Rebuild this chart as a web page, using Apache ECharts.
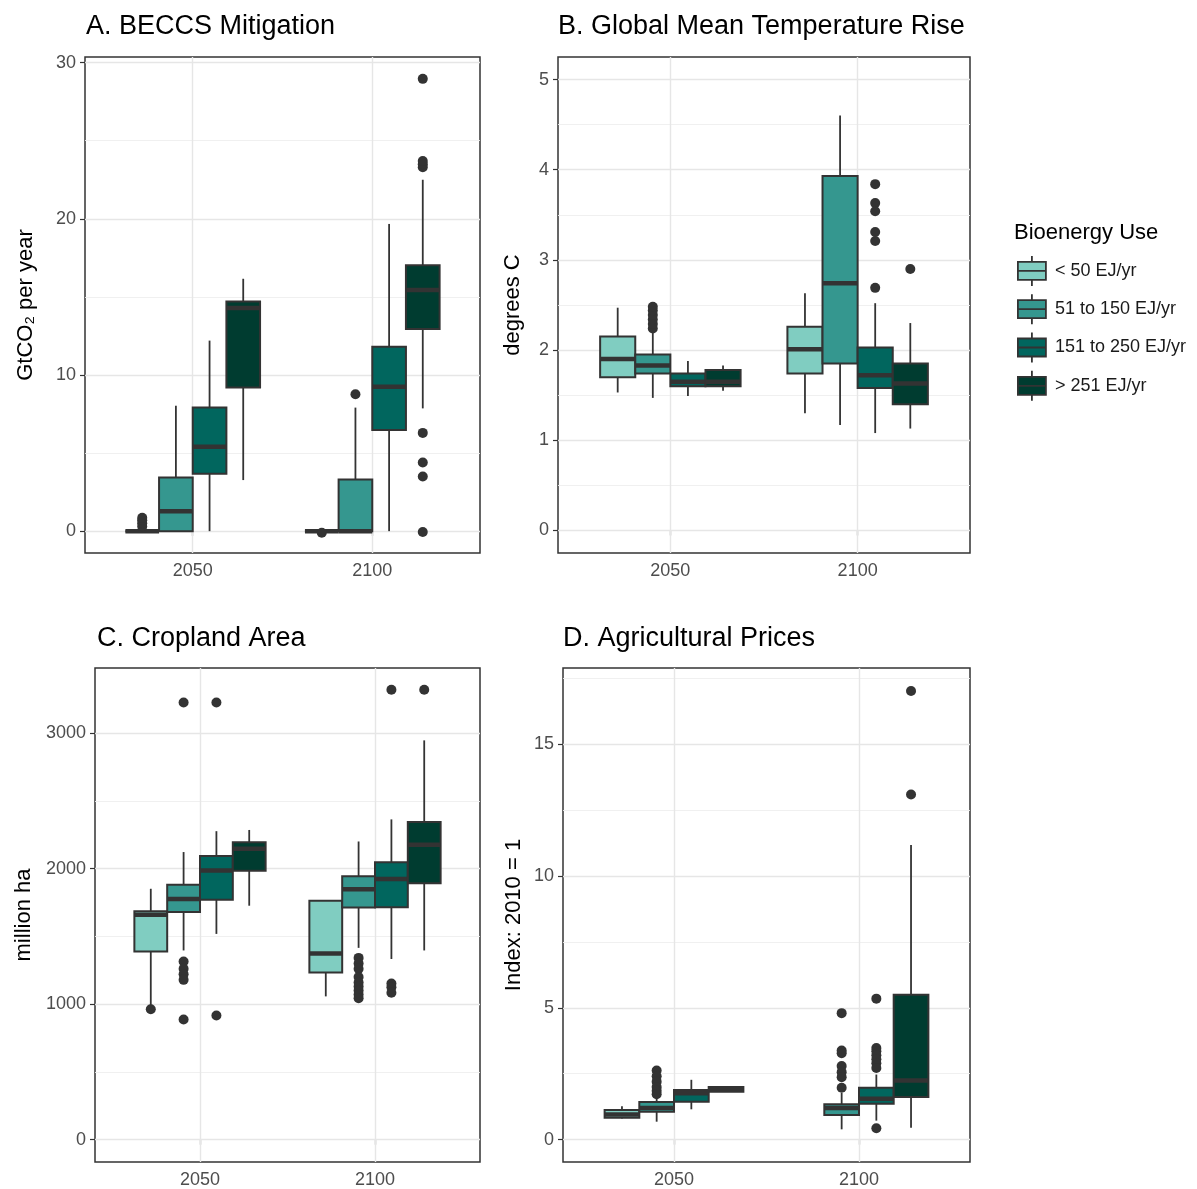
<!DOCTYPE html>
<html>
<head>
<meta charset="utf-8">
<title>Bioenergy use boxplots</title>
<script src="https://cdn.jsdelivr.net/npm/echarts@6/dist/echarts.min.js"></script>
<style>
  html, body { margin: 0; padding: 0; background: #fff; }
  #chart { width: 1197px; height: 1189px; }
</style>
</head>
<body>
<div id="chart"></div>
<script>
const years = ['2050', '2100'];
const groups = ['< 50 EJ/yr', '51 to 150 EJ/yr', '151 to 250 EJ/yr', '> 251 EJ/yr'];

// per group: [2050, 2100], each [lower whisker, q1, median, q3, upper whisker]
const beccsBoxes = [
  [[0, 0, 0, 0, 0], [0, 0, 0, 0, 0]],
  [[0, 0, 1.28, 3.44, 8.03], [0, 0, 0, 3.31, 7.91]],
  [[0, 3.68, 5.4, 7.91, 12.2], [0, 6.48, 9.24, 11.8, 19.67]],
  [[3.27, 9.19, 14.28, 14.7, 16.16], [7.86, 12.94, 15.44, 17.03, 22.5]]
];
const beccsOutliers = [
  [[0.3, 0.5, 0.7, 0.85], [-0.1]],
  [[], [8.76]],
  [[], []],
  [[], [28.96, 23.3, 23.5, 23.7, 6.29, 4.4, 3.5, -0.05]]
];
const beccsTicks = [0, 10, 20, 30];
const beccsMinor = [5, 15, 25];

const tempBoxes = [
  [[1.53, 1.70, 1.90, 2.15, 2.47], [1.30, 1.74, 2.01, 2.26, 2.63]],
  [[1.47, 1.74, 1.83, 1.95, 2.2], [1.17, 1.85, 2.74, 3.93, 4.60]],
  [[1.49, 1.60, 1.65, 1.74, 1.88], [1.08, 1.58, 1.72, 2.03, 2.52]],
  [[1.55, 1.60, 1.65, 1.78, 1.83], [1.13, 1.40, 1.63, 1.85, 2.30]]
];
const tempOutliers = [
  [[], []],
  [[2.24, 2.29, 2.34, 2.39, 2.44, 2.48], []],
  [[], [3.84, 3.63, 3.54, 3.31, 3.21, 2.69]],
  [[], [2.90]]
];
const tempTicks = [0, 1, 2, 3, 4, 5];
const tempMinor = [0.5, 1.5, 2.5, 3.5, 4.5];

const cropBoxes = [
  [[990, 1388, 1659, 1686, 1851], [1057, 1233, 1374, 1762, 1762]],
  [[1396, 1680, 1775, 1881, 2122], [1415, 1713, 1848, 1943, 2200]],
  [[1518, 1770, 1986, 2092, 2276], [1333, 1715, 1924, 2046, 2363]],
  [[1726, 1984, 2146, 2195, 2285], [1396, 1892, 2176, 2344, 2946]]
];
const cropOutliers = [
  [[962], []],
  [[3225, 1314, 1260, 1220, 1179, 886], [1341, 1300, 1260, 1200, 1160, 1130, 1100, 1070, 1043]],
  [[3225, 916], [3320, 1152, 1125, 1084]],
  [[], [3320]]
];
const cropTicks = [0, 1000, 2000, 3000];
const cropMinor = [500, 1500, 2500];

const priceBoxes = [
  [[0.80, 0.83, 0.95, 1.12, 1.27], null],
  [[0.68, 1.06, 1.20, 1.43, 1.60], [0.39, 0.93, 1.20, 1.34, 1.78]],
  [[1.15, 1.44, 1.76, 1.88, 2.27], [0.72, 1.36, 1.55, 1.97, 2.47]],
  [[1.82, 1.82, 1.93, 2.0, 2.0], [0.45, 1.62, 2.24, 5.50, 11.18]]
];
const priceOutliers = [
  [[], []],
  [[2.62, 2.4, 2.2, 2.0, 1.85, 1.72], [4.80, 3.38, 3.28, 2.79, 2.56, 2.37, 1.97]],
  [[], [5.35, 3.48, 3.35, 3.2, 3.05, 2.9, 2.72, 0.43]],
  [[], [17.03, 13.1]]
];
const priceTicks = [0, 5, 10, 15];
const priceMinor = [2.5, 7.5, 12.5, 17.5];

const palette = ['#80cdc1', '#35978f', '#01665e', '#003c30'];
const font = 'Liberation Sans, Arial, sans-serif';
const ink = '#333333';
const boxW = 0.1875;

const panels = [
  { title: 'A. BECCS Mitigation', yName: 'GtCO₂ per year', boxes: beccsBoxes, outliers: beccsOutliers,
    ticks: beccsTicks, minor: beccsMinor, range: [-1.4, 30.36],
    grid: { left: 85, top: 57, width: 395, height: 496 }, nameGap: 48, titleLeft: 86, titleTop: 13 },
  { title: 'B. Global Mean Temperature Rise', yName: 'degrees C', boxes: tempBoxes, outliers: tempOutliers,
    ticks: tempTicks, minor: tempMinor, range: [-0.25, 5.25],
    grid: { left: 558, top: 57, width: 412, height: 496 }, nameGap: 34, titleLeft: 558, titleTop: 13 },
  { title: 'C. Cropland Area', yName: 'million ha', boxes: cropBoxes, outliers: cropOutliers,
    ticks: cropTicks, minor: cropMinor, range: [-165, 3480],
    grid: { left: 95, top: 668, width: 385, height: 496 }, nameGap: 60, titleLeft: 97, titleTop: 625 },
  { title: 'D. Agricultural Prices', yName: 'Index: 2010 = 1', boxes: priceBoxes, outliers: priceOutliers,
    ticks: priceTicks, minor: priceMinor, range: [-0.85, 17.9],
    grid: { left: 563, top: 668, width: 407, height: 496 }, nameGap: 38, titleLeft: 563, titleTop: 625 }
];

const slotX = (cat, slot) => cat + 1 + (slot - 1.5) * boxW;

function boxRenderer(slot, color) {
  return function (params, api) {
    const x = slotX(api.value(0), slot);
    const xl = api.coord([x - boxW / 2, 0])[0];
    const xr = api.coord([x + boxW / 2, 0])[0];
    const xc = api.coord([x, 0])[0];
    const y = i => api.coord([x, api.value(i)])[1];
    const lo = y(1), q1 = y(2), md = y(3), q3 = y(4), hi = y(5);
    const line = { stroke: ink, lineWidth: 1.8 };
    return {
      type: 'group',
      children: [
        { type: 'line', shape: { x1: xc, y1: lo, x2: xc, y2: q1 }, style: line },
        { type: 'line', shape: { x1: xc, y1: q3, x2: xc, y2: hi }, style: line },
        { type: 'rect', shape: { x: xl, y: q3, width: xr - xl, height: q1 - q3 },
          style: { fill: color, stroke: ink, lineWidth: 2 } },
        { type: 'line', shape: { x1: xl, y1: md, x2: xr, y2: md }, style: { stroke: ink, lineWidth: 4.5 } }
      ]
    };
  };
}

const option = {
  animation: false,
  backgroundColor: '#ffffff',
  textStyle: { fontFamily: font },
  title: [],
  grid: [],
  xAxis: [],
  yAxis: [],
  series: [],
  legend: {
    orient: 'vertical',
    left: 1017,
    top: 255,
    padding: 0,
    itemWidth: 30,
    itemHeight: 30,
    itemGap: 6.5,
    icon: 'path://M15,0L15,6M1,6L29,6L29,24L1,24ZM1,15L29,15M15,24L15,30',
    itemStyle: { borderColor: ink, borderWidth: 1.8 },
    textStyle: { fontSize: 18, color: '#1a1a1a', fontFamily: font, padding: [0, 0, 0, 3] },
    data: groups
  }
};

option.title.push({
  text: 'Bioenergy Use', left: 1014, top: 222, padding: 0,
  textStyle: { fontSize: 22, fontWeight: 'normal', color: '#000', fontFamily: font }
});

panels.forEach((p, i) => {
  option.title.push({
    text: p.title, left: p.titleLeft, top: p.titleTop, padding: 0,
    textStyle: { fontSize: 27, fontWeight: 'normal', color: '#000', fontFamily: font }
  });
  option.grid.push(Object.assign({ show: true, borderColor: ink, borderWidth: 1.5, backgroundColor: '#fff' }, p.grid));
  option.xAxis.push({
    gridIndex: i, type: 'value', min: 0.4, max: 2.6,
    axisLine: { show: false }, splitLine: { show: false },
    axisTick: { show: true, length: 5, customValues: [1, 2], lineStyle: { color: ink, width: 1.2 } },
    axisLabel: { customValues: [1, 2], formatter: v => years[Math.round(v) - 1], fontSize: 18, color: '#4d4d4d', margin: 9 }
  });
  option.yAxis.push({
    gridIndex: i, type: 'value', min: p.range[0], max: p.range[1],
    axisLine: { show: false }, splitLine: { show: false },
    axisTick: { show: true, length: 5, customValues: p.ticks, lineStyle: { color: ink, width: 1.2 } },
    axisLabel: { customValues: p.ticks, formatter: v => String(v), fontSize: 18, color: '#4d4d4d', margin: 9 },
    name: p.yName, nameLocation: 'middle', nameGap: p.nameGap,
    nameTextStyle: { fontSize: 22, color: '#000', fontFamily: font }
  });

  groups.forEach((g, slot) => {
    const data = [];
    p.boxes[slot].forEach((b, c) => { if (b) data.push([c].concat(b)); });
    option.series.push({
      name: g, type: 'custom', xAxisIndex: i, yAxisIndex: i, z: 3,
      itemStyle: { color: palette[slot] },
      encode: { x: 0, y: [1, 2, 3, 4, 5] },
      renderItem: boxRenderer(slot, palette[slot]),
      data: data
    });
  });

  const pts = [];
  p.outliers.forEach((byYear, slot) => {
    byYear.forEach((vals, c) => vals.forEach(v => pts.push([slotX(c, slot), v])));
  });
  const major = { color: '#e6e6e6', width: 1.4, type: 'solid' };
  const minorStyle = { color: '#eeeeee', width: 0.9, type: 'solid' };
  option.series.push({
    name: 'outliers', type: 'scatter', xAxisIndex: i, yAxisIndex: i, z: 4,
    symbolSize: 10, itemStyle: { color: ink, opacity: 1 },
    data: pts,
    markLine: {
      silent: true, symbol: 'none', z: 1, animation: false,
      label: { show: false },
      data: p.ticks.map(v => ({ yAxis: v, lineStyle: major }))
        .concat(p.minor.map(v => ({ yAxis: v, lineStyle: minorStyle })))
        .concat([1, 2].map(v => ({ xAxis: v, lineStyle: major })))
    }
  });
});

const chart = echarts.init(document.getElementById('chart'));
chart.setOption(option);
</script>
</body>
</html>
